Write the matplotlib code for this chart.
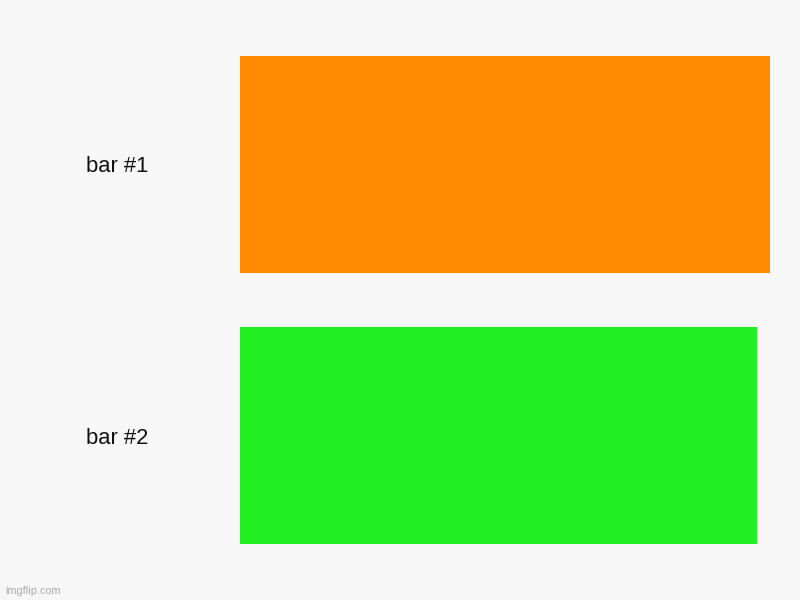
import matplotlib.pyplot as plt

# chart data
labels = ["bar #1", "bar #2"]
values = [100, 97.5]
colors = ["#ff8a00", "#22ef22"]

plt.rcParams["font.family"] = ["Liberation Sans", "DejaVu Sans"]

fig = plt.figure(figsize=(8, 6), dpi=100, facecolor="#f7f7f7")
# axes spans from the bar start to the end of the longest bar
ax = fig.add_axes([0.3, 56 / 600, 770 / 800 - 0.3, 488 / 600])
ax.set_facecolor("#f7f7f7")

pos = list(range(len(labels)))
ax.barh(pos, values, height=0.8, color=colors)
ax.set_xlim(0, max(values))
ax.set_ylim(len(labels) - 0.6, -0.4)

ax.set_yticks(pos)
ax.set_yticklabels(labels, fontsize=15.8, color="#111111")
ax.tick_params(axis="y", length=0, pad=66)
ax.set_xticks([])
for s in ax.spines.values():
  s.set_visible(False)

fig.text(5 / 800, 1 - 591 / 600, "imgflip.com", fontsize=7.8, color="#aaaaaa",
         va="center", ha="left")

fig.savefig("out.png", dpi=100, facecolor=fig.get_facecolor())
